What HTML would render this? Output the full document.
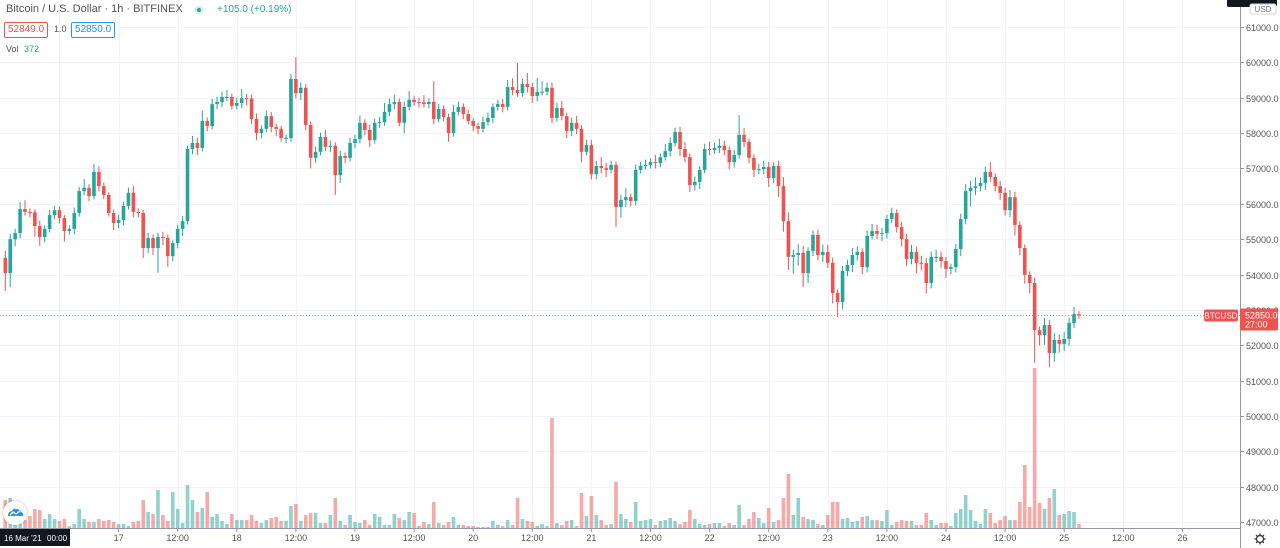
<!DOCTYPE html>
<html><head><meta charset="utf-8"><style>
html,body{margin:0;padding:0;background:#fff;}
body{width:1280px;height:548px;overflow:hidden;position:relative;font-family:"Liberation Sans",sans-serif;}
svg{position:absolute;left:0;top:0;}
.hdr{position:absolute;font-size:11px;color:#555;white-space:nowrap;}
.box{position:absolute;font-size:10px;height:14px;line-height:14px;padding:0 3px;border-radius:2px;background:#fff;}
</style></head><body>
<svg id="chart" width="1280" height="548"></svg>
<div class="hdr" style="left:6px;top:3px;">Bitcoin / U.S. Dollar · 1h · BITFINEX</div>
<div style="position:absolute;left:195px;top:6px;width:8px;height:8px;border-radius:50%;background:#cfeeea;"><div style="margin:2px;width:4px;height:4px;border-radius:50%;background:#26a69a;"></div></div>
<div class="hdr" style="left:217px;top:4px;font-size:10px;color:#26a69a;">+105.0 (+0.19%)</div>
<div class="box" style="left:4px;top:22px;border:1px solid #ef5350;color:#ef5350;">52849.0</div>
<div class="hdr" style="left:54px;top:24px;font-size:9px;">1.0</div>
<div class="box" style="left:71px;top:22px;border:1px solid #2196f3;color:#2196f3;">52850.0</div>
<div class="hdr" style="left:6px;top:44px;font-size:9px;">Vol <span style="color:#26a69a;margin-left:3px;">372</span></div>
<div style="position:absolute;left:3px;top:501px;width:24px;height:24px;border-radius:50%;background:#fff;box-shadow:0 0 3px rgba(0,0,0,.25);">
<svg width="24" height="24" viewBox="0 0 24 24" style="position:relative"><path d="M5 15 Q5 10 9 10 Q10 7 13 8 Q17 8 18 11 Q21 12 20 15 Z" fill="#2196f3"/><path d="M7 14 L10 11 L13 13 L17 10" stroke="#fff" stroke-width="1.3" fill="none"/></svg></div>
<script>
const closes=[54040,55000,55170,55850,55770,55760,55370,55060,55290,55680,55820,55600,55230,55290,55740,56360,56450,56220,56900,56500,
56250,55740,55460,55540,55940,56310,55770,55740,54750,55030,54750,55060,55030,54520,54890,55290,55510,57550,57720,57580,
58340,58200,58820,58880,59020,59020,58770,58850,58990,58980,58400,58000,58120,58480,58170,58120,57860,57860,59530,59130,
59280,58230,57300,57470,57890,57610,57640,56810,57350,57300,57720,57830,58290,58090,57800,58290,58310,58600,58820,58880,
58290,58740,58940,58880,58870,58820,58880,58400,58680,58450,58000,58600,58740,58540,58340,58200,58120,58310,58430,58740,
58820,58740,59300,59220,59130,59390,59300,59050,59160,59170,59280,58430,58710,58480,58060,58290,58120,57470,57660,56840,
57070,57010,56960,57100,55910,56110,56190,56080,56960,57070,57100,57180,57150,57320,57490,57720,58030,57550,57320,56530,
56620,56960,57550,57520,57580,57640,57520,57180,57380,57950,57750,57300,56960,56980,57040,56730,57070,56500,55510,54500,
54550,54610,54040,54670,55120,54550,54640,54330,53480,53220,54100,54270,54550,54640,54210,55090,55230,55150,55170,55570,
55740,55340,55000,54440,54640,54330,54320,53760,54500,54500,54380,54160,54210,54720,55570,56360,56450,56500,56590,56900,
56760,56500,56310,55820,56190,55400,54750,53990,53760,52430,52290,52570,51780,52150,52040,52180,52630,52880,52850];
const firstOpen=54470;
const wickUp=[200,150,120,200,250,100,80,150,100,150,120,100,80,100,150,120,250,100,230,150,
100,80,100,150,120,150,200,100,80,150,100,120,150,100,80,120,150,100,200,150,
300,100,150,150,150,200,100,150,250,120,100,150,100,150,120,100,80,100,150,620,
150,100,100,150,120,200,150,100,150,100,150,120,200,100,150,120,150,250,150,200,
100,150,250,100,120,200,100,590,150,100,100,200,150,100,120,80,100,150,150,100,
120,150,200,250,760,150,310,120,400,300,150,150,150,200,100,150,200,100,150,150,
150,250,150,120,100,150,250,100,150,120,150,100,200,100,200,150,120,150,200,100,
150,100,150,200,150,200,150,100,150,560,200,100,100,150,180,150,100,150,250,250,
150,250,200,100,120,150,200,200,150,100,150,150,200,150,100,150,200,180,150,120,
150,100,150,150,200,150,200,150,150,200,150,120,100,150,150,200,200,250,150,150,
280,100,150,150,200,150,100,100,100,150,100,200,150,200,150,200,150,200,80];
const wickDn=[500,400,200,150,100,150,300,250,150,100,120,150,300,100,150,100,120,150,100,150,
120,100,200,150,150,100,150,120,280,150,200,700,200,300,150,150,200,100,150,200,
100,150,100,150,150,120,100,100,150,200,150,200,150,100,150,200,100,150,100,150,
200,150,300,150,100,120,150,560,220,150,100,150,120,150,200,100,150,100,120,150,
100,300,100,100,150,100,120,150,100,120,250,100,100,150,100,150,150,100,100,150,
100,150,100,150,100,100,150,200,150,100,100,150,100,120,200,150,150,300,100,150,
150,150,200,100,570,300,200,150,120,100,100,100,150,120,100,150,100,200,150,200,
150,200,100,150,100,150,150,200,150,100,150,150,200,120,150,250,150,300,300,370,
480,300,390,280,150,150,200,150,300,420,200,150,200,150,200,150,100,150,200,150,
120,150,200,200,150,300,200,300,150,150,200,250,150,150,200,150,430,200,150,200,
150,150,200,150,200,300,200,250,300,930,300,280,400,250,250,200,200,150,100];
const volumes=[28,30,15,12,8,12,19,18,9,14,9,7,9,2,4,19,9,6,6,9,7,8,6,4,4,2,6,7,28,16,14,38,13,7,36,19,5,43,28,16,
20,36,11,14,7,4,14,8,8,8,13,7,5,8,10,11,7,7,22,24,7,13,15,15,5,5,13,30,7,3,13,6,
5,8,3,14,11,3,3,14,10,8,16,15,2,6,4,26,5,3,6,11,3,3,2,2,1,1,1,7,3,2,8,3,30,9,7,6,2,4,2,110,
5,3,7,8,2,35,12,32,13,8,3,4,46,14,9,6,26,7,8,9,3,7,8,10,7,4,6,18,9,4,3,4,5,
5,2,5,3,23,3,9,16,10,5,20,6,8,30,54,13,30,11,9,8,4,3,13,26,26,9,10,6,7,11,12,8,8,7,18,3,6,8,7,7,
3,3,15,8,3,5,5,2,15,19,33,18,7,4,19,15,5,8,12,8,8,26,63,21,160,25,19,30,39,13,14,17,16,4];
const priceTicks=[47000,48000,49000,50000,51000,52000,53000,54000,55000,56000,57000,58000,59000,60000,61000];
const timeTickHours=[11,23,35,47,59,71,83,95,107,119,131,143,155,167,179,191,203,215,227,239];
const timeTickLabels=["","17","12:00","18","12:00","19","12:00","20","12:00","21","12:00","22","12:00","23","12:00","24","12:00","25","12:00","26"];
const lastPrice=52850;

const NS="http://www.w3.org/2000/svg";
const svg=document.getElementById('chart');
const PLOT_R=1240;
function yScale(p){return 27+(61000-p)/1000*35.36;}
function xScale(i){return 5.3+i*4.925;}
function volScale(v){return v*1.0;}
const VBASE=528;
function mk(tag,attrs,parent){const e=document.createElementNS(NS,tag);for(const k in attrs)e.setAttribute(k,attrs[k]);(parent||svg).appendChild(e);return e;}
const UP="#26a69a",DN="#ef5350";

const grid=mk('g',{});


priceTicks.forEach(p=>{const y=Math.round(yScale(p))+0.5;
 const l=mk('line',{x1:0,x2:PLOT_R,y1:y,y2:y,stroke:'#f0f3fa','stroke-width':1},grid);
 
 });
timeTickHours.forEach(h=>{const x=Math.round(xScale(h))+0.5;
 const l=mk('line',{x1:x,x2:x,y1:0,y2:528,stroke:'#f0f3fa','stroke-width':1},grid);
 
 });

const vg=mk('g',{});


volumes.forEach((v,i)=>{const o=i===0?firstOpen:closes[i-1];const up=closes[i]>=o;const h=volScale(v);
 const r=mk('rect',{x:xScale(i)-1.8,y:VBASE-h,width:3.6,height:h,fill:up?'rgba(38,166,154,0.5)':'rgba(239,83,80,0.5)'},vg);
 
 });

const cg=mk('g',{});


closes.forEach((c,i)=>{const o=i===0?firstOpen:closes[i-1];const up=c>=o;const col=up?UP:DN;
 const hi=Math.max(o,c)+wickUp[i],lo=Math.min(o,c)-wickDn[i];const x=xScale(i);
 const w=mk('line',{x1:x,x2:x,y1:yScale(hi),y2:yScale(lo),stroke:col,'stroke-width':1},cg);
 
 
 const yt=yScale(Math.max(o,c)),yb=yScale(Math.min(o,c));
 const b=mk('rect',{x:x-1.8,y:yt,width:3.6,height:Math.max(1,yb-yt),fill:col},cg);
 
 });

const ly=Math.round(yScale(lastPrice))+0.5;
const pl=mk('line',{x1:0,x2:PLOT_R,y1:ly,y2:ly,stroke:'#ef5350','stroke-width':1,'stroke-dasharray':'1 2',opacity:0.7});



const ax=mk('line',{x1:1240.5,x2:1240.5,y1:0,y2:548,stroke:'#9598a1','stroke-width':1});


const bx=mk('line',{x1:0,x2:1240,y1:528.5,y2:528.5,stroke:'#9598a1','stroke-width':1});


priceTicks.forEach(p=>{const y=Math.round(yScale(p))+0.5;
 const tk=mk('line',{x1:1240,x2:1244,y1:y,y2:y,stroke:'#9598a1'});
 
 
 const t=mk('text',{x:1246,y:y+3.5,'font-size':9,fill:'#555','font-family':'Liberation Sans, sans-serif'});
 t.textContent=p.toFixed(1);
 
 });
timeTickHours.forEach((h,k)=>{if(!timeTickLabels[k])return;const x=xScale(h);
 const tk=mk('line',{x1:x,x2:x,y1:528,y2:532,stroke:'#9598a1'});
 
 
 const t=mk('text',{x:x,y:541,'font-size':9,fill:'#555','text-anchor':'middle','font-family':'Liberation Sans, sans-serif'});
 t.textContent=timeTickLabels[k];
 
 });
const db=mk('rect',{x:0,y:529,width:70,height:17,fill:'#131722'});


const dt=mk('text',{x:4,y:541,'font-size':8,fill:'#fff','font-family':'Liberation Sans, sans-serif'});
dt.textContent="16 Mar '21";


const dt2=mk('text',{x:47,y:541,'font-size':8,fill:'#fff','font-family':'Liberation Sans, sans-serif'});
dt2.textContent="00:00";


const sb=mk('rect',{x:1204,y:ly-6,width:34,height:12,rx:2,fill:'#ef5350'});


const st=mk('text',{x:1221,y:ly+3,'font-size':8,fill:'#fff','text-anchor':'middle','font-family':'Liberation Sans, sans-serif'});
st.textContent='BTCUSD';


const pb=mk('rect',{x:1240,y:ly-7,width:38,height:22,rx:2,fill:'#ef5350'});


const pt=mk('text',{x:1245,y:ly+3,'font-size':9,fill:'#fff','font-family':'Liberation Sans, sans-serif'});
pt.textContent=lastPrice.toFixed(1);


const ct=mk('text',{x:1245,y:ly+12,'font-size':9,fill:'#fff','font-family':'Liberation Sans, sans-serif'});
ct.textContent='27:00';


const tb=mk('rect',{x:1227,y:-3,width:50,height:10,rx:2,fill:'#131722'});


const ub=mk('rect',{x:1250,y:4,width:26,height:10,rx:2,fill:'#fff',stroke:'#d1d4dc'});


const ut=mk('text',{x:1263,y:12,'font-size':8,fill:'#777','text-anchor':'middle','font-family':'Liberation Sans, sans-serif'});
ut.textContent='USD';


const gear=mk('g',{transform:'translate(1260,539)'});


mk('circle',{cx:0,cy:0,r:3.5,fill:'none',stroke:'#333','stroke-width':1.2},gear);
for(let a=0;a<8;a++){const r=a*Math.PI/4;mk('line',{x1:Math.cos(r)*3.5,y1:Math.sin(r)*3.5,x2:Math.cos(r)*5.5,y2:Math.sin(r)*5.5,stroke:'#333','stroke-width':1.3},gear);}
</script>
</body></html>
